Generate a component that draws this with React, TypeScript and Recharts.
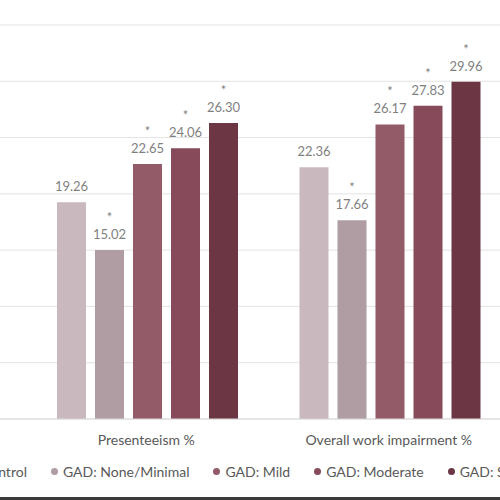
import { Bar, BarChart, CartesianGrid, LabelList, XAxis, YAxis } from "recharts";

const categories = ["Presenteeism %", "Overall work impairment %"];
const control = [19.26, 22.36];
const noneMinimal = [15.02, 17.66];
const mild = [22.65, 26.17];
const moderate = [24.06, 27.83];
const severe = [26.3, 29.96];
const yTicks = [0, 5, 10, 15, 20, 25, 30, 35];

const series = [
  { key: "control", name: "Control", color: "#c9b9be", star: false },
  { key: "none", name: "GAD: None/Minimal", color: "#b09ca3", star: true },
  { key: "mild", name: "GAD: Mild", color: "#935a68", star: true },
  { key: "moderate", name: "GAD: Moderate", color: "#864a5b", star: true },
  { key: "severe", name: "GAD: Severe", color: "#6c3645", star: true },
];

const data = categories.map((c, i) => ({
  cat: c,
  control: control[i],
  none: noneMinimal[i],
  mild: mild[i],
  moderate: moderate[i],
  severe: severe[i],
}));

const FONT = "Lato, 'Open Sans', sans-serif";

function makeLabel(star: boolean) {
  return (props: any) => {
    const { x, y, width, value } = props;
    const cx = Number(x) + Number(width) / 2;
    const top = Number(y);
    return (
      <g>
        {star && (
          <text x={cx} y={top - 28} textAnchor="middle" fontSize={13} fill="#7f7f7f" fontFamily={FONT}>
            *
          </text>
        )}
        <text x={cx} y={top - 11} textAnchor="middle" fontSize={13} fill="#7f7f7f" fontFamily={FONT}>
          {Number(value).toFixed(2)}
        </text>
      </g>
    );
  };
}

export default function App() {
  return (
    <div
      style={{
        position: "fixed",
        left: 0,
        top: 0,
        width: 500,
        height: 500,
        overflow: "hidden",
        background: "#fff",
        fontFamily: FONT,
      }}
    >
      <BarChart
        width={520}
        height={500}
        data={data}
        margin={{ top: 25, right: 10, bottom: 51, left: 0 }}
        barGap={9}
        barCategoryGap={32}
      >
        <CartesianGrid vertical={false} stroke="#e3e3e3" />
        <XAxis
          dataKey="cat"
          height={30}
          padding={{ left: 25, right: 0 }}
          axisLine={{ stroke: "#d9d9d9" }}
          tickLine={false}
          tickMargin={10}
          tick={{ fontSize: 14, fill: "#595959", fontFamily: FONT }}
        />
        <YAxis hide domain={[0, 35]} ticks={yTicks} />
        {series.map((s) => (
          <Bar key={s.key} dataKey={s.key} name={s.name} fill={s.color} isAnimationActive={false}>
            <LabelList dataKey={s.key} content={makeLabel(s.star)} />
          </Bar>
        ))}
      </BarChart>
      <div
        style={{
          position: "absolute",
          top: 463,
          left: -31,
          display: "flex",
          gap: 24,
          whiteSpace: "nowrap",
          fontSize: 14,
          color: "#595959",
        }}
      >
        {series.map((s) => (
          <span key={s.key} style={{ display: "inline-flex", alignItems: "center", gap: 5 }}>
            <span style={{ width: 7, height: 7, borderRadius: "50%", background: s.color, display: "inline-block" }} />
            {s.name}
          </span>
        ))}
      </div>
      <div style={{ position: "absolute", left: 0, bottom: 0, width: 500, height: 3, background: "#3a3a3a" }} />
    </div>
  );
}
